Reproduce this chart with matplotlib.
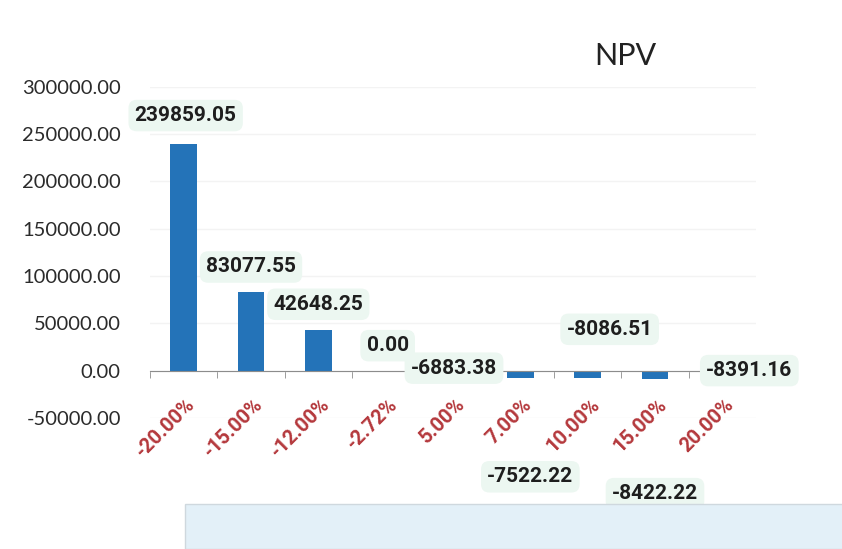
#!/usr/bin/env python3

import matplotlib.pyplot as plt
from matplotlib.patches import Rectangle
from matplotlib.transforms import offset_copy

plt.rcParams['font.family'] = ['Lato', 'DejaVu Sans']
BOLD = ['Roboto', 'DejaVu Sans']

rates = ['-20.00%', '-15.00%', '-12.00%', '-2.72%', '5.00%',
         '7.00%', '10.00%', '15.00%', '20.00%']
npv = [239859.05, 83077.55, 42648.25, 0.00, -6883.38,
       -7522.22, -8086.51, -8422.22, -8391.16]
# where each data label sits, in pixels from the bar end (hand placed in the original)
label_dx = [2, 0, 0, 2, 1, 10, 22, 0, 27]
label_dy = [28, 25, 26, 25, 9, -99, 49, -115, 8]

fig = plt.figure(figsize=(8.42, 5.49), dpi=100)
fig.patch.set_facecolor('white')

# pale blue panel peeking in at the bottom of the scan
fig.patches.append(Rectangle((185 / 842, 0), 1, 45 / 549, transform=fig.transFigure,
                             facecolor='#e3f0f8', edgecolor='#cfd8de', lw=1, zorder=0))

ax = fig.add_axes([150 / 842, 131 / 549, 606 / 842, 331.4 / 549])
ax.set_facecolor('none')

x = list(range(len(rates)))
ax.bar(x, npv, width=0.4, color='#2473b8', zorder=2)

ax.set_xlim(-0.5, len(rates) - 0.5)
ax.set_ylim(-50000, 300000)
ax.set_yticks(range(-50000, 300001, 50000))
ax.set_yticklabels([f'{v:.2f}' for v in range(-50000, 300001, 50000)])
ax.tick_params(axis='y', length=0, pad=21, labelsize=14.5, labelcolor='#2b2b2b')
ax.grid(axis='y', color='#f3f3f3', lw=1, zorder=0)

for s in ['left', 'right', 'top']:
    ax.spines[s].set_visible(False)
ax.spines['bottom'].set_position(('data', 0))
ax.spines['bottom'].set_color('#8c8c8c')
ax.spines['bottom'].set_zorder(3)

ax.set_xticks(x)
ax.set_xticklabels([])
ax.tick_params(axis='x', which='major', length=0)
ax.set_xticks([i - 0.5 for i in range(len(rates) + 1)], minor=True)
ax.tick_params(axis='x', which='minor', length=5, color='#8c8c8c', direction='out')

for i, r in enumerate(rates):
    tr = offset_copy(ax.transData, fig=fig, x=2, y=-24, units='dots')
    ax.text(i, 0, r, transform=tr, rotation=45, rotation_mode='anchor',
            ha='right', va='top', fontsize=14.5, fontweight='bold',
            family=BOLD, color='#b4383c')

for i, v in enumerate(npv):
    ax.annotate(f'{v:.2f}', xy=(i, v), xytext=(label_dx[i] * 0.72, label_dy[i] * 0.72),
                textcoords='offset points', ha='center', va='center',
                fontsize=15, fontweight='bold', family=BOLD, color='#1e1e1e', zorder=5,
                bbox=dict(boxstyle='round,pad=0.3,rounding_size=0.4',
                          facecolor='#ecf7f1', edgecolor='none'))

fig.text(625 / 842, 1 - 56 / 549, 'NPV', ha='center', va='center',
         fontsize=22, color='#222222')

fig.savefig('out.png', dpi=100)
